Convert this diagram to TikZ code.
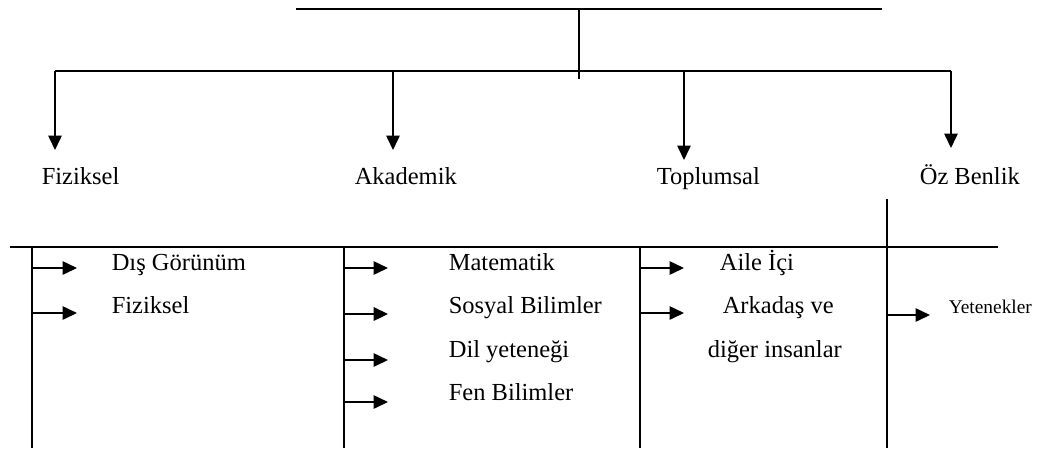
\documentclass[tikz,border=0pt]{standalone}
\usepackage{fontspec}
\setmainfont{Liberation Serif}
\usetikzlibrary{arrows.meta}

\begin{document}
\begin{tikzpicture}[x=0.49pt, y=-0.49pt, line width=0.8pt,
    >={Triangle[length=7pt,width=6.5pt]},
    lbl/.style={anchor=base west, inner sep=0pt, font=\fontsize{12}{14}\selectfont},
    smalllbl/.style={lbl, font=\fontsize{9.5}{11}\selectfont}]
    \useasboundingbox (0,0) rectangle (1049,452);
    % Top bar and stem
    \coordinate (topL) at (296,9);
    \coordinate (topR) at (882,9);
    \coordinate (topM) at (579,9);
    \coordinate (stem) at (579,79);
    \draw (topL) -- (topR);
    \draw (topM) -- (stem);
    % Branch bar
    \coordinate (barL) at (55,71);
    \coordinate (barA) at (393,71);
    \coordinate (barT) at (684,71);
    \coordinate (barR) at (951,71);
    \draw (barL) -- (barR);
    % Branch arrows
    \coordinate (tipF) at (55,150);
    \coordinate (tipA) at (393,150);
    \coordinate (tipT) at (684,160);
    \coordinate (tipO) at (951,148);
    \draw[->] (barL) -- (tipF);
    \draw[->] (barA) -- (tipA);
    \draw[->] (barT) -- (tipT);
    \draw[->] (barR) -- (tipO);
    % Branch labels
    \node[lbl] (fiz) at (41,184) {Fiziksel};
    \node[lbl] (aka) at (354,184) {Akademik};
    \node[lbl] (top) at (656,184) {Toplumsal};
    \node[lbl] (oz) at (919,184) {Öz Benlik};
    % Lower frame
    \coordinate (frL) at (10,247);
    \coordinate (frR) at (998,247);
    \draw (frL) -- (frR);
    \coordinate (c1t) at (32,247);  \coordinate (c1b) at (32,448);
    \coordinate (c2t) at (344,247); \coordinate (c2b) at (344,448);
    \coordinate (c3t) at (640,247); \coordinate (c3b) at (640,448);
    \coordinate (c4t) at (887,199); \coordinate (c4b) at (887,448);
    \draw (c1t) -- (c1b);
    \draw (c2t) -- (c2b);
    \draw (c3t) -- (c3b);
    \draw (c4t) -- (c4b);
    % Fiziksel column
    \coordinate (f1) at (32,268); \coordinate (f1e) at (77,268);
    \coordinate (f2) at (32,313); \coordinate (f2e) at (77,313);
    \draw[->] (f1) -- (f1e);
    \draw[->] (f2) -- (f2e);
    \node[lbl] (dis) at (111,270) {Dış Görünüm};
    \node[lbl] (fzk) at (111,313) {Fiziksel};
    % Akademik column
    \coordinate (a1) at (344,268); \coordinate (a1e) at (388,268);
    \coordinate (a2) at (344,314); \coordinate (a2e) at (388,314);
    \coordinate (a3) at (344,360); \coordinate (a3e) at (388,360);
    \coordinate (a4) at (344,402); \coordinate (a4e) at (388,402);
    \draw[->] (a1) -- (a1e);
    \draw[->, line width=1.2pt] (a2) -- (a2e);
    \draw[->] (a3) -- (a3e);
    \draw[->] (a4) -- (a4e);
    \node[lbl] (mat) at (448,270) {Matematik};
    \node[lbl] (sos) at (448,313) {Sosyal Bilimler};
    \node[lbl] (dil) at (448,357) {Dil yeteneği};
    \node[lbl] (fen) at (448,400) {Fen Bilimler};
    % Toplumsal column
    \coordinate (t1) at (640,268); \coordinate (t1e) at (684,268);
    \coordinate (t2) at (640,313); \coordinate (t2e) at (684,313);
    \draw[->] (t1) -- (t1e);
    \draw[->] (t2) -- (t2e);
    \node[lbl] (aile) at (719,270) {Aile İçi};
    \node[lbl] (ark) at (722,313) {Arkadaş ve};
    \node[lbl] (dig) at (707,357) {diğer insanlar};
    % Oz Benlik column
    \coordinate (o1) at (887,315); \coordinate (o1e) at (930,315);
    \draw[->] (o1) -- (o1e);
    \node[smalllbl] (yet) at (948,313) {Yetenekler};
\end{tikzpicture}
\end{document}
